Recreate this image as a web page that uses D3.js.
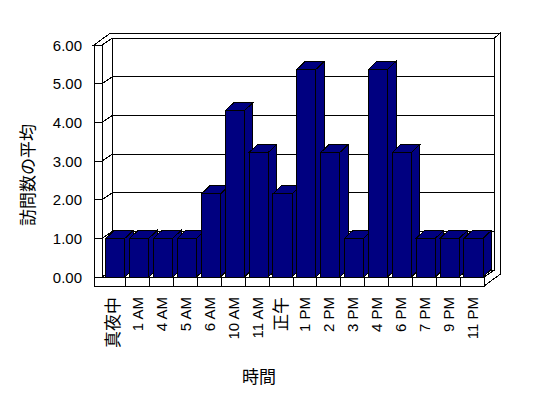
<!DOCTYPE html>
<html>
<head>
<meta charset="utf-8">
<script src="https://cdn.jsdelivr.net/npm/d3@7"></script>
<style>
  body { margin: 0; background: #fff; }
</style>
</head>
<body>
<div id="chart"></div>
<script>
// data
const categories = ["真夜中", "1 AM", "4 AM", "5 AM", "6 AM", "10 AM", "11 AM", "正午",
  "1 PM", "2 PM", "3 PM", "4 PM", "6 PM", "7 PM", "9 PM", "11 PM"];
const avgVisits = [1, 1, 1, 1, 2.15, 4.3, 3.22, 2.15, 5.37, 3.22, 1, 5.37, 3.22, 1, 1, 1];
const yTicks = [0, 1, 2, 3, 4, 5, 6];
const yTitle = "訪問数の平均";
const xTitle = "時間";

// layout
const width = 548, height = 398;
const plot = { left: 102, right: 484, bottom: 277, top: 45 };
const wallW = 8;          // left wall thickness
const floorH = 9;         // floor thickness
const depth = { dx: 10.5, dy: -7 };     // front plane -> back wall
const wallDepth = { dx: 6, dy: -5 };    // back wall thickness
const barDepth = { dx: 8.5, dy: -8 };
const barFill = "#000080";
const font = '"Liberation Sans", Arial, "Noto Sans CJK JP", sans-serif';
const cjk = /[\u3000-\u9fff]/;

const svg = d3.select("#chart")
  .append("svg")
  .attr("width", width)
  .attr("height", height)
  .attr("shape-rendering", "crispEdges")
  .style("display", "block");

const x = d3.scaleBand().domain(categories).range([plot.left, plot.right]);
const y = d3.scaleLinear().domain([0, 6]).range([plot.bottom, plot.top]);

const poly = (pts) => "M" + pts.map((p) => p.join(",")).join("L") + "Z";
const face = (pts, fill) => svg.append("path")
  .attr("d", poly(pts))
  .attr("fill", fill)
  .attr("stroke", "#000")
  .attr("stroke-width", 1)
  .attr("stroke-linejoin", "miter");

// box corners
const L = plot.left - wallW;
const bx0 = plot.left + depth.dx, bx1 = plot.right + depth.dx;
const by0 = y(6) + depth.dy, by1 = y(0) + depth.dy;
const ox = bx1 + wallDepth.dx, oyT = by0 + wallDepth.dy;
const floorB = plot.bottom + floorH;

// back wall
face([[bx0, by0], [bx1, by0], [bx1, by1], [bx0, by1]], "#fff");
// left wall inner face
face([[plot.left, y(6)], [bx0, by0], [bx0, by1], [plot.left, y(0)]], "#fff");
// floor top
face([[plot.left, y(0)], [bx0, by1], [bx1, by1], [plot.right, y(0)]], "#fff");
// top edges of left + back wall
face([[L, y(6)], [plot.left, y(6)], [bx0, by0], [bx1, by0], [ox, oyT],
  [L + depth.dx + wallDepth.dx, oyT]], "#fff");
// right side of back wall + floor
face([[bx1, by0], [ox, oyT], [ox, floorB + depth.dy + wallDepth.dy],
  [plot.right, floorB], [plot.right, y(0)], [bx1, by1]], "#fff");
// front faces of left wall + floor
face([[L, y(6)], [plot.left, y(6)], [plot.left, y(0)], [plot.right, y(0)],
  [plot.right, floorB], [L, floorB]], "#fff");

// gridlines + ticks
svg.append("g")
  .selectAll("path")
  .data(yTicks)
  .join("path")
  .attr("fill", "none")
  .attr("stroke", "#000")
  .attr("d", (v) => `M${L},${y(v)}H${plot.left}L${bx0},${y(v) + depth.dy}H${bx1}`);

// floor dividers
svg.append("g")
  .selectAll("line")
  .data(categories.slice(1))
  .join("line")
  .attr("x1", (c) => x(c))
  .attr("x2", (c) => x(c))
  .attr("y1", y(0))
  .attr("y2", floorB)
  .attr("stroke", "#000");

// bars, left to right so later fronts cover earlier sides
const bw = x.bandwidth();
const bars = svg.append("g")
  .selectAll("g")
  .data(categories.map((c, i) => ({ c, v: avgVisits[i] })))
  .join("g");

bars.each(function (d) {
  const g = d3.select(this);
  const x0 = x(d.c) + bw * 0.16, x1 = x0 + bw * 0.8;
  const yt = y(d.v), yb = y(0);
  const { dx, dy } = barDepth;
  const sides = [
    [[x1, yt], [x1 + dx, yt + dy], [x1 + dx, yb + dy], [x1, yb]],
    [[x0, yt], [x0 + dx, yt + dy], [x1 + dx, yt + dy], [x1, yt]],
    [[x0, yt], [x1, yt], [x1, yb], [x0, yb]],
  ];
  g.selectAll("path")
    .data(sides)
    .join("path")
    .attr("d", poly)
    .attr("fill", barFill)
    .attr("stroke", "#000");
});

// y tick labels
svg.append("g")
  .selectAll("text")
  .data(yTicks)
  .join("text")
  .attr("x", 82)
  .attr("y", (v) => y(v))
  .attr("text-anchor", "end")
  .attr("dominant-baseline", "central")
  .style("font-family", font)
  .style("font-size", "15px")
  .text((v) => v.toFixed(2));

// x tick labels (rotated)
svg.append("g")
  .selectAll("text")
  .data(categories)
  .join("text")
  .attr("transform", (c) => `translate(${x(c) + bw / 2},297) rotate(-90)`)
  .attr("text-anchor", "end")
  .attr("dominant-baseline", "central")
  .style("font-family", font)
  .style("font-size", (c) => (cjk.test(c) ? "17px" : "15px"))
  .text((c) => c);

// axis titles
svg.append("text")
  .attr("transform", "translate(28,175) rotate(-90)")
  .attr("text-anchor", "middle")
  .attr("dominant-baseline", "central")
  .style("font-family", font)
  .style("font-size", "17px")
  .text(yTitle);

svg.append("text")
  .attr("x", 259)
  .attr("y", 377)
  .attr("text-anchor", "middle")
  .attr("dominant-baseline", "central")
  .style("font-family", font)
  .style("font-size", "17px")
  .text(xTitle);
</script>
</body>
</html>
